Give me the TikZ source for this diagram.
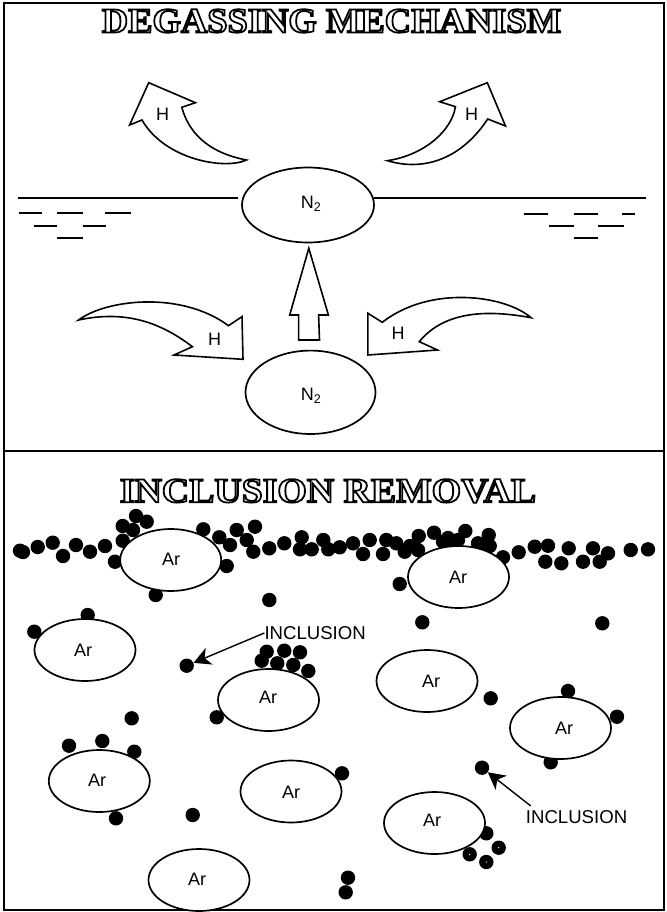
\documentclass[tikz,border=0pt]{standalone}
\usepackage{graphicx}
\usepackage{fontspec}
\setmainfont{Liberation Sans}
\newfontfamily\headfont{Liberation Serif}[BoldFont={Liberation Serif Bold}]
\usetikzlibrary{shapes.geometric,arrows.meta}
% Outlined heading lettering: white fill, black stroke
\newcommand{\outlinetext}[2]{\scalebox{#1}[1]{\special{pdf:code q 2 Tr 1.7 w 0 G 1 g}#2\special{pdf:code Q}}}
\tikzset{
  heading/.style={font=\headfont\bfseries\fontsize{35}{38}\selectfont,inner sep=0pt},
  tag/.style={font=\fontsize{18}{20}\selectfont,inner sep=0pt},
  calltag/.style={font=\fontsize{18.6}{20}\selectfont,inner sep=0pt},
  frameline/.style={line width=2.2pt},
  surface/.style={line width=2pt},
  ripple/.style={line width=1.4pt},
  flow/.style={line width=1.6pt,fill=white,line join=miter},
  bubble/.style={ellipse,draw,line width=1.7pt,fill=white,inner sep=0pt,minimum width=#1},
  bubble/.default={101pt},
  inclusion/.style={circle,fill=black,inner sep=0pt,minimum size=14.4pt},
  pointer/.style={line width=1.4pt,-{Stealth[length=17pt,width=18pt,inset=5pt]}}
}
\begin{document}
\begin{tikzpicture}[x=1pt,y=-1pt]
\useasboundingbox (0,0) rectangle (666,912);
\fill[white] (0,0) rectangle (666,912);

% Frame and divider
\draw[frameline] (4.2,3) rectangle (664,910);
\draw[frameline] (4.2,450.7) -- (664,450.7);

% Headings
\node[heading] (degas) at (331.5,21) {\outlinetext{1.043}{DEGASSING MECHANISM}};
\node[heading] (incl) at (328,491) {\outlinetext{1.08}{INCLUSION REMOVAL}};

% Melt surface and ripples
\draw[surface] (18,198) -- (238,198);
\draw[surface] (374,198) -- (646,198);
\foreach \xa/\xb/\yy in {19/42/213,57/83/213,105/131/213,34/57/226,83/106/226,57/83/238,
  524/548/214,573.5/598/214,622/635/214,549/573.5/226,598/624/226,573.5/598/238}
  \draw[ripple] (\xa,\yy) -- (\xb,\yy);

% Gas bubbles of the upper panel
\node[bubble=132pt,minimum height=75pt] (n2top) at (308,205) {};
\node[tag] (n2toplab) at (311,204) {N\textsubscript{2}};
\node[bubble=130pt,minimum height=83.4pt] (n2low) at (310.5,392.3) {};
\node[tag] (n2lowlab) at (311,395.7) {N\textsubscript{2}};

% Curved hydrogen arrows
\draw[flow] (148.7,82.7) -- (195.4,102.7) -- (181.8,107.3)
  .. controls (188,130) and (205,152) .. (246.4,160)
  .. controls (225,170) and (165,160) .. (142,120)
  -- (129.6,125) -- cycle;
\draw[flow] (487.3,82.7) -- (505.5,126) -- (487.7,119)
  .. controls (462,158) and (425,172) .. (387.4,160.7)
  .. controls (425,155) and (452,130) .. (455.4,106.7)
  -- (439.7,101.7) -- cycle;
\draw[flow] (78.6,320) .. controls (105,300) and (180,290) .. (228.5,325.7)
  -- (242,316.7) -- (243,359.3) -- (174,355) -- (192.4,346.7)
  .. controls (160,322) and (125,310) .. cycle;
\draw[flow] (531,317.7) .. controls (505,295) and (430,285) .. (382.3,322.3)
  -- (367.9,313.3) -- (367.9,355) -- (437.5,350) -- (419.3,341.7)
  .. controls (445,310) and (490,310) .. cycle;
\node[tag] (h1) at (162.7,114) {H};
\node[tag] (h2) at (471.5,114) {H};
\node[tag] (h3) at (214.5,339.3) {H};
\node[tag] (h4) at (398,333.3) {H};

% Rising arrow between the nitrogen bubbles
\draw[flow] (308.8,248.3) -- (328.4,315) -- (318.6,315) -- (319.5,340)
  -- (298.6,340) -- (298.6,315) -- (289.7,315) -- cycle;

% Inclusions, behind the argon bubbles
\foreach \px/\py in {
  20/550.7,23/552,37.7/547,52.7/542.7,63/556,76/545,90/551.7,105/546,
  122.7/526,136/516,146.7/521.7,133/530,122.7/540.7,115/561.7,226.7/566,155.7/595,
  203.3/529.3,219.3/537.3,230/545,236.7/530,255/526.7,246.7/540,253.3/551.7,
  269.3/548.3,284.3/543.3,301.7/537.3,300/549.3,311.7/549.3,323.3/540,328.3/549.3,
  269.3/600,
  339.7/547.3,353/543.3,369.7/540,363/554,386.3/540,396.3/543.3,383/554,404.7/551.7,
  418/550,418.7/536,434/532.7,443/541.7,453/541.7,465.3/531,478/543.3,488.7/535,
  489.7/546,503/557.3,518.7/552.3,534.7/546.7,548/545.7,545.3/561.7,561.3/563.3,
  568.7/548.3,583/561.7,593/548.3,599.7/561.7,608/553.3,630.7/550,648/549.3,
  399.7/584,
  87.7/615,34.3/631.7,266.7/651.7,284.3/650.7,300/652.3,261.7/660.7,277.3/663.3,
  293.3/665,308.3/671,216.7/717.3,131.7/718.3,69/745.7,102.3/741,134.3/751.7,
  116/818.3,192.7/815,
  422.3/622.3,602.3/623.3,490.7/698.3,568/691,617/716.7,550.7/762.3,342/773.3,
  486.3/833.3,498.7/847.7,469.7/854.3,486.3/862,348/877.7,345.7/892.3,
  410/546,448/538,458/540,482/550}
  \fill (\px,\py) circle (7.2pt);
% Small pale centres of three scattered inclusions
\foreach \px/\py in {498.7/847.7,469.7/854.3,486.3/862}
  \fill[white] (\px,\py) circle (0.7pt);
\node[inclusion] (spotA) at (186.7,665.7) {};
\node[inclusion] (spotB) at (482,767.7) {};

% Argon bubbles
\foreach \nm/\cx/\cy/\tx/\ty in {
  a/170.7/560/171/559, b/458.5/577/458/577, c/85/650/83/650, d/268.5/700/268/697,
  e/99.3/781/97/780, f/291/791.5/291/792, g/199/880/197/879, h/427/681/431/681,
  i/560.5/728/564/728, j/434.5/823/432/820}{
  \node[bubble,minimum height=62pt] (ar\nm) at (\cx,\cy) {};
  \node[tag] (lab\nm) at (\tx,\ty) {Ar};
}

% Callouts
\node[calltag,anchor=west] (callA) at (264.3,633) {INCLUSION};
\node[calltag,anchor=west] (callB) at (525.7,816.7) {INCLUSION};
\draw[pointer] (callA.west) -- (spotA);
\draw[pointer] ([xshift=5pt,yshift=4pt]callB.north west) -- (spotB);
\end{tikzpicture}
\end{document}
